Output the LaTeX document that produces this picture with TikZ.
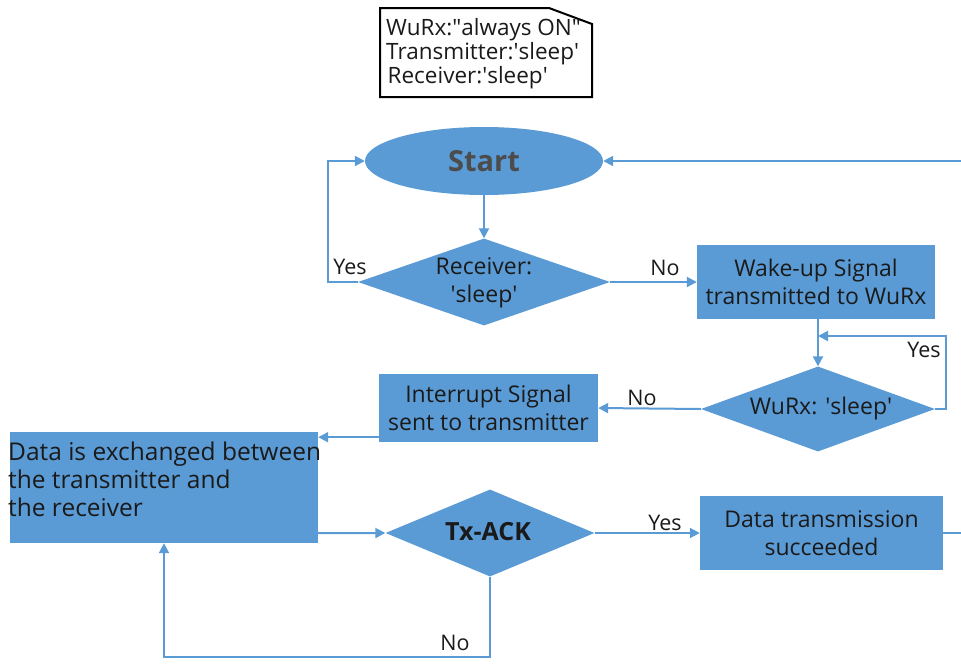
\documentclass[tikz,border=0pt]{standalone}
\usepackage{fontspec}
\setmainfont{Open Sans}
\usetikzlibrary{shapes.geometric,arrows.meta}
\definecolor{fc}{HTML}{5B9BD5}
\definecolor{tc}{HTML}{1A1A1A}
\newcommand{\sq}{\textquotesingle}
\newcommand{\dq}{\textquotedbl}
\tikzset{
  box/.style={rectangle,fill=fc,draw=none,inner sep=0pt,text=tc,font=\fontsize{23}{28}\selectfont,align=center},
  dia/.style={diamond,fill=fc,draw=none,inner sep=0pt},
  dtext/.style={inner sep=0pt,text=tc,font=\fontsize{23}{28}\selectfont,align=center},
  arr/.style={draw=fc,line width=2pt,-{Triangle[length=10pt,width=10pt]}},
  lbl/.style={text=tc,font=\fontsize{21.5}{24}\selectfont,inner sep=0pt}
}
\begin{document}
\begin{tikzpicture}[x=1pt,y=-1pt]
\useasboundingbox (0,0) rectangle (961,664);
\clip (0,0) rectangle (961,664);
% note
\draw[line width=2pt,fill=white] (380,8) -- (549,8) -- (592,24) -- (592,97) -- (380,97) -- cycle;
\node[anchor=north west,inner sep=0pt,align=left,text=tc,font=\fontsize{22.5}{24}\selectfont] (note) at (386,18) {WuRx:\dq always ON\dq\\Transmitter:\sq sleep\sq\\\hspace*{1.5pt}Receiver:\sq sleep\sq};
% nodes
\node[ellipse,fill=fc,inner sep=0pt,minimum width=238pt,minimum height=68pt,text={black!70},font=\fontsize{29}{30}\selectfont\bfseries] (start) at (484,161) {Start};
\node[dia,minimum width=252pt,minimum height=87pt] (recv) at (484,282) {};
\node[dtext] (recvt) at (484,283) {Receiver:\\\sq sleep\sq};
\node[box,minimum width=238pt,minimum height=74pt] (wake) at (816,282) {Wake-up Signal\\transmitted to WuRx};
\node[dia,minimum width=234pt,minimum height=85pt] (wurx) at (818,409) {};
\node[dtext] (wurxt) at (821,409) {WuRx: \sq sleep\sq};
\node[box,minimum width=219pt,minimum height=68pt] (intr) at (488.5,408) {Interrupt Signal\\sent to transmitter};
\node[box,minimum width=308pt,minimum height=111pt] (data) at (164,487.5) {};
\node[anchor=north west,inner sep=0pt,align=left,text=tc,font=\fontsize{24.5}{28}\selectfont] (datat) at (8,442) {Data is exchanged between\\the transmitter and\\the receiver};
\node[dia,minimum width=209pt,minimum height=87pt] (tx) at (490,533) {};
\node[inner sep=0pt,text=tc,font=\fontsize{25}{28}\selectfont\bfseries] (txt) at (488,532) {Tx-ACK};
\node[box,minimum width=243pt,minimum height=74pt] (dt) at (821.5,533) {Data transmission\\succeeded};
\coordinate (wyes) at (818,336);
% connectors
\draw[arr] (start.south) -- (recv.north);
\draw[arr] (recv.west) -- ++(-30,0) |- (start.west);
\draw[arr] (recv.east) -- (wake.west);
\draw[arr] (wake.south -| wurx.north) -- (wurx.north);
\draw[arr] (wurx.east) -- ++(11,0) |- (wyes);
\draw[arr] (wurx.west) -- (intr.east);
\draw[arr] ([yshift=5pt]intr.south west) -- ([yshift=5pt]intr.south west -| data.east);
\draw[arr] ([yshift=10pt]data.south east) -- (tx.west);
\draw[arr] (tx.east) -- (dt.west);
\draw[arr] (dt.east) -- ++(40,0) |- (start.east);
\draw[arr] (tx.south) -- ++(0,80) -| (data.south);
% labels
\node[lbl] (l1) at (350,267) {Yes};
\node[lbl] (l2) at (665,268) {No};
\node[lbl] (l3) at (924,350) {Yes};
\node[lbl] (l4) at (642,398) {No};
\node[lbl] (l5) at (665,523) {Yes};
\node[lbl] (l6) at (455,643) {No};
\end{tikzpicture}
\end{document}
